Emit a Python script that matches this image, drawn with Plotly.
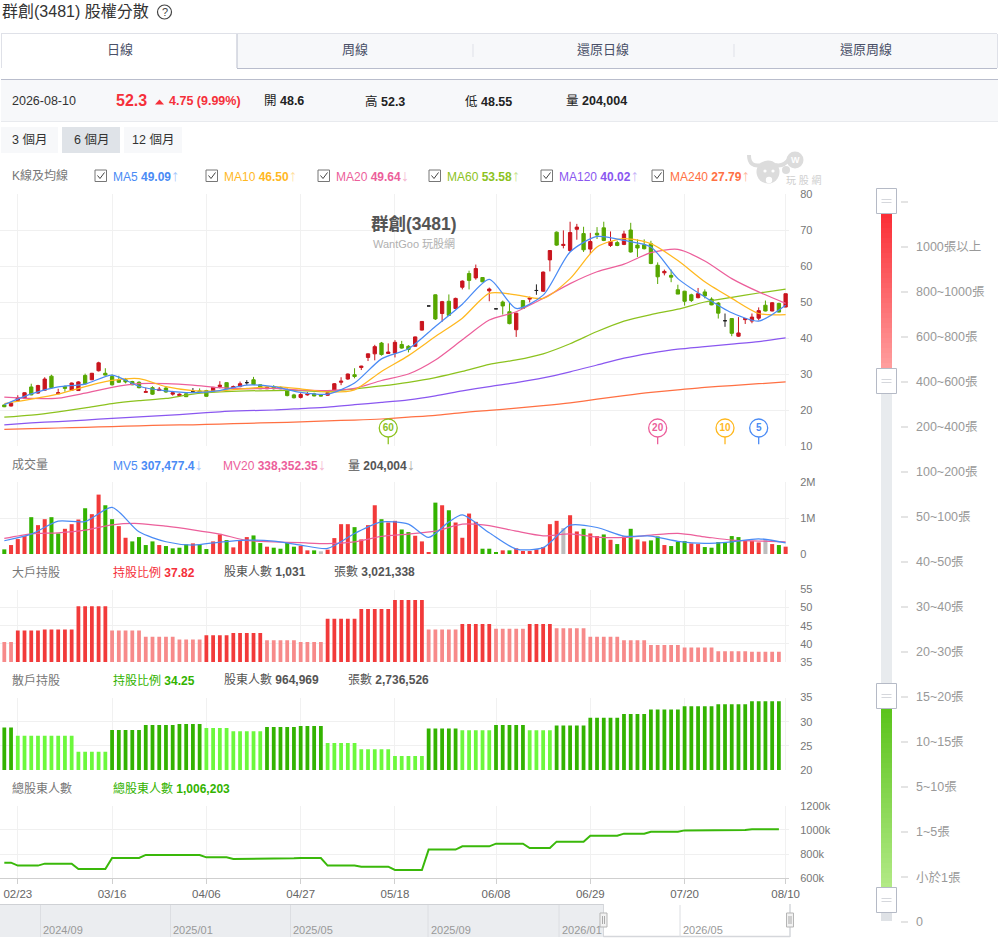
import numpy as np
import pandas as pd
import plotly.graph_objects as go

# trading days shown on the chart
holidays = ["2026-02-13", "2026-02-16", "2026-02-17", "2026-02-18", "2026-02-19", "2026-02-20", "2026-02-27",
            "2026-04-03", "2026-04-10", "2026-05-01", "2026-06-19", "2026-07-10"]
all_days = pd.bdate_range("2026-02-11", "2026-08-10")
dates = [d.strftime("%m/%d") for d in all_days if d.strftime("%Y-%m-%d") not in holidays]
tick_dates = ["02/23", "03/16", "04/06", "04/27", "05/18", "06/08", "06/29", "07/20", "08/10"]

opens = [21.4, 21.1, 22.6, 23.3, 26.4, 24.7, 25.5, 29.4, 24.5, 26.5,
         25.5, 25.4, 29.6, 28.4, 30.9, 30.2, 29.3, 28.4, 28.4, 27.9,
         27.7, 24.9, 26.2, 25.4, 26.1, 24.4, 24.0, 24.5, 25.1, 25.3,
         25.4, 25.1, 26.5, 27.6, 26.1, 26.5, 27.6, 28.4, 27.0, 25.9,
         26.5, 26.3, 25.6, 24.2, 23.5, 24.2, 24.5, 24.1, 24.1, 25.5,
         27.7, 28.6, 29.8, 31.8, 34.6, 35.6, 38.6, 35.7, 35.8, 38.2,
         37.7, 37.7, 42.2, 48.9, 52.0, 46.8, 50.2, 48.2, 54.1, 57.9,
         56.7, 56.8, 53.1, 48.1, 50.0, 47.3, 42.3, 50.4, 50.8, 53.2,
         53.0, 61.7, 69.4, 65.7, 64.3, 70.2, 69.0, 64.7, 69.1, 70.6,
         65.7, 66.5, 66.0, 70.0, 65.8, 65.9, 66.2, 60.2, 58.1, 57.4,
         53.4, 53.0, 52.0, 51.2, 52.8, 50.8, 49.7, 44.8, 45.4, 40.5,
         45.1, 44.7, 45.5, 49.1, 47.5, 49.6, 48.6]
highs = [21.6, 22.2, 24.1, 24.9, 27.3, 27.0, 29.1, 29.8, 25.9, 26.8,
         27.6, 28.0, 30.1, 30.3, 33.4, 31.6, 29.9, 29.5, 28.9, 28.1,
         28.0, 26.2, 26.6, 26.4, 26.6, 25.3, 24.6, 24.6, 26.1, 26.0,
         25.6, 26.4, 28.0, 27.7, 26.8, 27.9, 28.3, 29.2, 27.1, 26.6,
         26.9, 26.5, 26.0, 24.5, 24.7, 25.0, 24.8, 24.2, 25.2, 27.5,
         29.1, 30.1, 31.6, 32.3, 35.7, 38.1, 38.9, 38.5, 39.4, 39.2,
         38.0, 40.4, 44.7, 48.9, 52.1, 50.3, 52.1, 51.2, 56.0, 58.7,
         60.4, 56.9, 54.0, 48.1, 50.4, 50.0, 47.0, 50.5, 51.5, 54.9,
         58.5, 64.4, 69.6, 69.9, 72.3, 71.7, 70.9, 69.2, 70.8, 72.3,
         69.6, 67.0, 69.8, 72.0, 67.4, 67.4, 67.0, 61.0, 59.0, 59.0,
         54.8, 53.1, 52.3, 53.9, 53.5, 51.3, 50.0, 46.8, 45.5, 45.8,
         45.5, 46.8, 48.5, 50.4, 50.0, 49.8, 52.3]
lows = [20.8, 21.0, 22.3, 23.2, 24.1, 24.5, 25.3, 26.0, 24.4, 25.1,
        25.4, 25.3, 27.1, 28.3, 30.7, 29.6, 26.8, 27.5, 27.4, 26.9,
        26.0, 24.9, 24.2, 25.3, 24.8, 24.0, 23.8, 23.6, 24.8, 24.8,
        23.7, 25.0, 26.0, 25.8, 25.8, 26.3, 27.0, 27.0, 25.8, 25.8,
        25.7, 25.8, 23.8, 23.2, 23.2, 24.0, 23.8, 23.8, 24.0, 25.4,
        26.9, 28.4, 28.8, 31.1, 33.6, 33.8, 35.1, 35.6, 34.6, 37.0,
        36.0, 37.6, 42.1, 48.9, 45.0, 44.5, 46.2, 48.0, 53.5, 53.5,
        56.2, 55.5, 50.2, 48.1, 46.5, 43.8, 40.3, 48.1, 49.9, 52.0,
        52.8, 58.5, 65.6, 64.9, 63.9, 67.3, 63.9, 63.3, 67.5, 66.9,
        65.3, 65.5, 65.8, 63.7, 62.5, 64.6, 60.5, 55.0, 57.4, 55.5,
        52.2, 49.0, 50.0, 51.0, 51.0, 49.1, 45.4, 43.1, 40.5, 40.3,
        43.9, 44.1, 44.9, 47.4, 47.4, 47.1, 48.55]
closes = [20.9, 21.9, 23.4, 24.8, 24.2, 26.8, 28.6, 26.2, 24.8, 26.0,
          27.5, 27.8, 27.3, 30.2, 33.1, 29.7, 27.0, 27.7, 27.8, 27.0,
          26.2, 25.1, 24.4, 25.8, 25.0, 24.8, 24.4, 23.7, 25.1, 25.0,
          23.8, 26.3, 26.9, 25.9, 26.5, 27.3, 27.6, 27.1, 25.9, 26.3,
          25.9, 25.9, 24.0, 23.4, 24.3, 24.4, 23.9, 23.9, 24.8, 27.3,
          28.0, 30.0, 29.3, 32.2, 35.6, 37.6, 35.4, 36.1, 38.8, 37.2,
          36.8, 40.3, 44.6, 48.9, 45.3, 50.1, 46.3, 51.0, 55.8, 56.0,
          59.3, 55.6, 53.6, 48.1, 48.9, 44.0, 46.9, 48.2, 51.1, 53.2,
          58.3, 64.3, 65.8, 66.0, 69.3, 70.8, 64.5, 66.8, 68.6, 67.1,
          66.8, 65.7, 68.9, 63.9, 65.0, 64.8, 60.7, 57.0, 58.5, 56.9,
          52.2, 50.2, 50.4, 52.3, 51.7, 49.2, 46.9, 44.8, 41.3, 41.4,
          45.4, 45.8, 47.6, 47.5, 49.8, 47.2, 52.3]

ma5 = [21.5, 24.5, 26.4, 27.2, 29.7, 26.6, 25.3, 24.8, 25.4, 26.9,
       26.5, 24.9, 24.4, 27.5, 34.2, 37.0, 43.2, 49.4, 56.3, 48.2,
       51.9, 63.9, 68.2, 67.1, 65.3, 56.5, 51.4, 47.0, 44.7, 49.09]
ma10 = [21.8, 23.0, 24.4, 26.5, 28.2, 28.7, 26.5, 25.4, 25.3, 26.0,
        26.5, 25.9, 25.0, 25.6, 30.7, 35.1, 40.4, 45.5, 52.4, 52.0,
        51.0, 56.5, 65.3, 67.6, 66.2, 61.5, 55.6, 51.0, 46.8, 46.5]
ma20 = [23.6, 23.2, 23.3, 24.7, 26.3, 27.3, 27.3, 26.9, 26.2, 25.9,
        26.0, 25.5, 25.4, 26.0, 28.2, 30.0, 33.9, 39.5, 45.0, 47.3,
        51.0, 55.1, 58.4, 60.5, 63.7, 64.6, 61.4, 56.5, 52.8, 49.64]
ma60 = [18.0, 18.6, 19.5, 20.6, 21.8, 22.6, 23.2, 24.4, 25.0, 25.3,
        25.4, 25.4, 25.1, 25.9, 26.7, 27.7, 29.0, 30.7, 32.7, 33.9,
        35.6, 38.4, 41.8, 44.7, 46.5, 48.0, 50.0, 51.3, 52.5, 53.58]
ma120 = [15.9, 16.4, 16.8, 17.2, 17.7, 18.1, 18.5, 19.0, 19.5, 19.8,
         20.0, 20.4, 20.8, 21.5, 22.1, 22.8, 23.9, 25.3, 26.5, 27.6,
         28.9, 30.6, 32.5, 34.4, 35.8, 36.9, 37.6, 38.3, 39.0, 40.02]
ma240 = [14.6, 14.8, 15.0, 15.2, 15.4, 15.6, 15.8, 15.9, 16.1, 16.3,
         16.5, 16.7, 17.0, 17.2, 17.5, 18.0, 18.5, 19.3, 19.9, 20.5,
         21.2, 22.0, 23.0, 24.0, 24.9, 25.6, 26.3, 26.8, 27.3, 27.79]

cross_days_idx = [57, 97, 107, 112]
cross_labels = ["60", "20", "10", "5"]
cross_y = [15, 15, 15, 15]

# volume in thousands of lots, R up / G down / N flat
volume = [129, 249, 415, 498, 1023, 802, 967, 1023, 571, 700,
          829, 958, 1271, 1106, 1650, 1354, 967, 774, 451, 350,
          470, 249, 350, 249, 221, 157, 175, 267, 295, 258,
          138, 350, 543, 387, 184, 387, 470, 516, 304, 203,
          175, 147, 313, 203, 230, 101, 101, 74, 120, 442,
          829, 829, 746, 405, 802, 1354, 967, 875, 921, 681,
          608, 507, 350, 55, 1427, 1354, 1215, 875, 451, 1123,
          893, 147, 147, 55, 101, 101, 157, 83, 83, 129,
          193, 829, 921, 718, 1077, 626, 700, 571, 498, 543,
          396, 276, 488, 700, 405, 350, 378, 488, 249, 221,
          341, 359, 295, 276, 193, 175, 332, 332, 498, 470,
          368, 359, 322, 387, 276, 249, 204]
vol_side = list("GRRRGRRGGR"
                "RRGRRGGRRG"
                "GGGRGGGGRG"
                "GRRGRRRGGR"
                "GGGGRRGNRR"
                "RRGRRRGRRG"
                "GRRRGRGRRR"
                "RGGGRGRRRR"
                "RRRNRRGRRG"
                "RGRGRRGGRG"
                "GGRRGGGGGG"
                "RRRNRGR")
mv5_idx = [0, 4, 8, 12, 16, 20, 24, 28, 32, 36, 40, 44, 48, 52, 56, 60, 63, 66, 68, 72, 76, 80, 84, 88, 92, 96, 100, 104, 108, 112, 116]
mv5 = [368, 552, 911, 902, 1297, 616, 340, 248, 331, 386,
       359, 248, 156, 570, 892, 828, 460, 892, 1086, 589,
       138, 175, 800, 736, 497, 497, 350, 294, 340, 423, 307.5]
mv20 = [432, 561, 589, 662, 810, 846, 773, 672, 552, 377,
        340, 313, 285, 340, 488, 552, 635, 828, 791, 635,
        506, 561, 469, 460, 524, 570, 478, 386, 359, 338.4]

# shareholder data is weekly
week_len = [2, 4, 5, 5, 5, 5, 4, 4, 5, 5, 4, 5, 5, 5, 5, 5, 5, 4, 5, 5, 4, 5, 5, 5, 5]
big_pct = [40.5, 43.7, 44.0, 50.4, 43.7, 42.0, 41.2, 42.4, 43.0, 41.0, 40.5, 46.9, 49.6,
           52.1, 44.0, 45.5, 44.2, 45.5, 44.3, 42.0, 41.0, 39.7, 39.0, 38.0, 37.82]
small_pct = [28.8, 27.1, 27.1, 23.8, 28.3, 29.3, 29.5, 28.7, 28.0, 28.9, 29.1, 25.6, 24.3,
             22.9, 28.6, 28.2, 29.3, 28.2, 29.2, 30.8, 31.6, 32.5, 33.2, 33.6, 34.25]
holders = [729, 705, 721, 677, 768, 793, 793, 773, 760, 765, 768, 705, 696,
           669, 837, 864, 886, 850, 903, 952, 969, 985, 996, 999, 1006]

nav_labels = ["2024/09", "2025/01", "2025/05", "2025/09", "2026/01", "2026/05"]
tier_labels = ["1000張以上", "800~1000張", "600~800張", "400~600張", "200~400張", "100~200張", "50~100張", "40~50張",
               "30~40張", "20~30張", "15~20張", "10~15張", "5~10張", "1~5張", "小於1張", "0"]

W, H = 998, 944
RED, GREEN = "#c9151e", "#57a700"
MA_COL = dict(ma5="#4a8bf5", ma10="#ffb81f", ma20="#ec5f9b", ma60="#8cc21e", ma120="#8a57f0", ma240="#ff7043")
FONT = "Liberation Sans, Noto Sans CJK TC, sans-serif"

ma_days = dates[::4]
week_days = dates[:sum(week_len)]


def px(x):
    return x / W


def py(y):
    return 1 - y / H


def rect(x0, y0, x1, y1, fill="rgba(0,0,0,0)", line=None, lw=1):
    return dict(type="rect", xref="paper", yref="paper", x0=px(x0), x1=px(x1), y0=py(y0), y1=py(y1),
                fillcolor=fill, line=dict(color=line or "rgba(0,0,0,0)", width=lw if line else 0))


def hline(x0, x1, y, color, lw=1):
    return dict(type="line", xref="paper", yref="paper", x0=px(x0), x1=px(x1), y0=py(y), y1=py(y),
                line=dict(color=color, width=lw))


def vline(x, y0, y1, color, lw=1):
    return dict(type="line", xref="paper", yref="paper", x0=px(x), x1=px(x), y0=py(y0), y1=py(y1),
                line=dict(color=color, width=lw))


def poly(points, color=None, fill=None, lw=1.5):
    d = "M " + " L ".join(f"{px(a):.5f},{py(b):.5f}" for a, b in points)
    if fill:
        d += " Z"
    return dict(type="path", xref="paper", yref="paper", path=d, fillcolor=fill or "rgba(0,0,0,0)",
                line=dict(color=color or "rgba(0,0,0,0)", width=lw if color else 0))


def curve(p0, q, p1, color, lw=3):
    d = f"M {px(p0[0]):.5f},{py(p0[1]):.5f} Q {px(q[0]):.5f},{py(q[1]):.5f} {px(p1[0]):.5f},{py(p1[1]):.5f}"
    return dict(type="path", xref="paper", yref="paper", path=d, line=dict(color=color, width=lw))


def oval(cx, cy, r, fill="rgba(0,0,0,0)", line=None, lw=1):
    return dict(type="circle", xref="paper", yref="paper", x0=px(cx - r), x1=px(cx + r), y0=py(cy - r), y1=py(cy + r),
                fillcolor=fill, line=dict(color=line or "rgba(0,0,0,0)", width=lw if line else 0))


def text(x, y, s, size=12, color="#333", anchor="left"):
    # annotations carry about 2px of padding on the left
    x = x - 2 if anchor == "left" else x
    return dict(xref="paper", yref="paper", x=px(x), y=py(y), text=s, showarrow=False, xanchor=anchor, yanchor="middle",
                font=dict(size=size, color=color, family=FONT), align=anchor)


def arrow(mark, color):
    return f'<span style="color:{color};font-size:16px">{mark}</span>'


def lerp_hex(a, b, t):
    ca = [int(a[i:i + 2], 16) for i in (1, 3, 5)]
    cb = [int(b[i:i + 2], 16) for i in (1, 3, 5)]
    return "#%02x%02x%02x" % tuple(int(u + (v - u) * t) for u, v in zip(ca, cb))


fig = go.Figure()

# candles, flat days are drawn black
o, h, l, c = map(np.array, (opens, highs, lows, closes))
flat = o == c
day_arr = np.array(dates)
fig.add_trace(go.Candlestick(x=day_arr[~flat], open=o[~flat], high=h[~flat], low=l[~flat], close=c[~flat],
                             increasing=dict(line=dict(color=RED, width=1), fillcolor=RED),
                             decreasing=dict(line=dict(color=GREEN, width=1), fillcolor=GREEN),
                             whiskerwidth=0, showlegend=False, hoverinfo="skip"))
fig.add_trace(go.Candlestick(x=day_arr[flat], open=o[flat], high=h[flat], low=l[flat], close=c[flat],
                             increasing=dict(line=dict(color="#222", width=1), fillcolor="#222"),
                             decreasing=dict(line=dict(color="#222", width=1), fillcolor="#222"),
                             whiskerwidth=0, showlegend=False, hoverinfo="skip"))
for name, vals in [("ma240", ma240), ("ma120", ma120), ("ma60", ma60), ("ma20", ma20), ("ma10", ma10), ("ma5", ma5)]:
    fig.add_trace(go.Scatter(x=ma_days, y=vals, mode="lines", showlegend=False, hoverinfo="skip",
                             line=dict(color=MA_COL[name], width=1.25, shape="spline", smoothing=0.7)))

# crossing badges under the candles
badge_cols = [MA_COL["ma60"], MA_COL["ma20"], MA_COL["ma10"], MA_COL["ma5"]]
for i, col in zip(cross_days_idx, badge_cols):
    fig.add_trace(go.Scatter(x=[dates[i], dates[i]], y=[12.5, 10.5], mode="lines", line=dict(color=col, width=1.3),
                             showlegend=False, hoverinfo="skip"))
fig.add_trace(go.Scatter(x=[dates[i] for i in cross_days_idx], y=cross_y, mode="markers+text", text=cross_labels,
                         textposition="middle center", textfont=dict(size=10, color=badge_cols, family=FONT, weight="bold"),
                         marker=dict(size=18, color="white", line=dict(color=badge_cols, width=1.3)),
                         showlegend=False, hoverinfo="skip"))

# volume panel
side_col = dict(R="#f23a3a", G="#33b300", N="#bdbdbd")
fig.add_trace(go.Bar(x=dates, y=volume, marker=dict(color=[side_col[s] for s in vol_side], line_width=0), width=0.6,
                     xaxis="x2", yaxis="y2", showlegend=False, hoverinfo="skip"))
fig.add_trace(go.Scatter(x=ma_days, y=mv20, mode="lines", xaxis="x2", yaxis="y2", showlegend=False, hoverinfo="skip",
                         line=dict(color=MA_COL["ma20"], width=1.25, shape="spline", smoothing=0.7)))
fig.add_trace(go.Scatter(x=[dates[i] for i in mv5_idx], y=mv5, mode="lines", xaxis="x2", yaxis="y2", showlegend=False,
                         hoverinfo="skip", line=dict(color=MA_COL["ma5"], width=1.25, shape="spline", smoothing=0.7)))

# big holders
big_bars = np.repeat(big_pct, week_len)
big_up = np.repeat(np.diff(big_pct, prepend=99) > 0, week_len)
fig.add_trace(go.Bar(x=week_days, y=big_bars, width=0.56, xaxis="x3", yaxis="y3", showlegend=False, hoverinfo="skip",
                     marker=dict(color=np.where(big_up, "#f23a3a", "#f78a8a").tolist(), line_width=0)))

# small holders
small_bars = np.repeat(small_pct, week_len)
small_up = np.repeat(np.diff(small_pct, prepend=0) > 0, week_len)
fig.add_trace(go.Bar(x=week_days, y=small_bars, width=0.56, xaxis="x4", yaxis="y4", showlegend=False, hoverinfo="skip",
                     marker=dict(color=np.where(small_up, "#33b300", "#6cf83c").tolist(), line_width=0)))

# total holders
fig.add_trace(go.Scatter(x=week_days, y=np.repeat(holders, week_len), mode="lines", xaxis="x5", yaxis="y5",
                         line=dict(color="#3ab80a", width=2), showlegend=False, hoverinfo="skip"))

panels = [(194, 446), (482, 554), (589.5, 662), (697.5, 770), (805.7, 878.3)]
y_specs = [
    dict(range=[10, 80], tickvals=[10, 20, 30, 40, 50, 60, 70, 80]),
    dict(range=[0, 2000], tickvals=[0, 1000, 2000], ticktext=["0", "1M", "2M"]),
    dict(range=[35, 55], tickvals=[35, 40, 45, 50, 55]),
    dict(range=[20, 35], tickvals=[20, 25, 30, 35]),
    dict(range=[600, 1200], tickvals=[600, 800, 1000, 1200], ticktext=["600k", "800k", "1000k", "1200k"]),
]
layout_axes = {}
for n, ((top, bottom), spec) in enumerate(zip(panels, y_specs), start=1):
    sfx = "" if n == 1 else str(n)
    last = n == len(panels)
    layout_axes["xaxis" + sfx] = dict(
        type="category", categoryorder="array", categoryarray=dates, range=[-0.64, 116.5], domain=[0, 789 / W],
        anchor="y" + sfx, tickmode="array", tickvals=tick_dates, showgrid=True, gridcolor="#f1f1f1", zeroline=False,
        showticklabels=last, ticks="outside" if last else "", ticklen=5, tickcolor="#cfcfcf",
        showline=last, linecolor="#cfcfcf", tickfont=dict(size=11.5, color="#666", family=FONT),
        rangeslider=dict(visible=False), fixedrange=True)
    layout_axes["yaxis" + sfx] = dict(
        domain=[py(bottom), py(top)], anchor="x" + sfx, side="right", showgrid=True, gridcolor="#f0f0f0", zeroline=False,
        ticks="outside", ticklen=8, tickcolor="rgba(0,0,0,0)", tickfont=dict(size=11, color="#777", family=FONT),
        tickmode="array", fixedrange=True, **spec)

shapes = []
notes = []

# page header
notes.append(text(2, 12, "群創(3481) 股權分散", 16, "#333"))
shapes.append(oval(164.5, 12, 7, line="#444", lw=1.2))
notes.append(text(164.5, 12, "?", 11, "#444", "center"))

# tabs
shapes += [rect(237, 34, 997, 68, fill="#f7f8fa"), hline(1, 997, 33.5, "#dfe1e8"), hline(237, 997, 68.5, "#b9bdcc"),
           vline(1.5, 34, 68, "#dfe1e8"), vline(237, 34, 68, "#b9bdcc"), vline(997.5, 34, 68, "#dfe1e8"),
           vline(473, 44, 57, "#dfe1e8"), vline(734, 44, 57, "#dfe1e8")]
for tx, label in [(120, "日線"), (355, "周線"), (603, "還原日線"), (866, "還原周線")]:
    notes.append(text(tx, 50, label, 13, "#4a5068", "center"))

# quote row
shapes += [rect(1, 80, 998, 121, fill="#f7f8fa"), hline(1, 998, 79.5, "#b9bdcc"), hline(1, 998, 121.5, "#e8eaee"),
           poly([(155, 104.5), (164, 104.5), (159.5, 99.5)], fill="#f5303a")]
notes += [text(12, 101, "2026-08-10", 12.5, "#333"),
          text(116, 100.5, "<b>52.3</b>", 16, "#f5303a"),
          text(169, 101, "<b>4.75 (9.99%)</b>", 12.5, "#f5303a"),
          text(264, 101, "開 <b>48.6</b>", 12.5, "#222"),
          text(365, 101, "高 <b>52.3</b>", 12.5, "#222"),
          text(465, 101, "低 <b>48.55</b>", 12.5, "#222"),
          text(566, 101, "量 <b>204,004</b>", 12.5, "#222")]

# period buttons
for x0, x1, fill, label in [(1, 58, "#f7f8fa", "3 個月"), (62, 120, "#dfe3e8", "6 個月"), (124, 182, "#f7f8fa", "12 個月")]:
    shapes.append(rect(x0, 127, x1, 153, fill=fill))
    notes.append(text((x0 + x1) / 2, 140, label, 12.5, "#333", "center"))

# MA legend
notes.append(text(12, 175, "K線及均線", 12, "#777"))
legend_rows = [(95, "MA5", "49.09", "↑", "ma5", "#a8c8fb"), (206, "MA10", "46.50", "↑", "ma10", "#ffe0a0"),
               (318, "MA20", "49.64", "↓", "ma20", "#f5b5d0"), (429, "MA60", "53.58", "↑", "ma60", "#c8e48e"),
               (541, "MA120", "40.02", "↑", "ma120", "#c8b4f8"), (652, "MA240", "27.79", "↑", "ma240", "#ffb8a0")]
for bx, name, val, mark, key, pale in legend_rows:
    shapes.append(rect(bx, 170, bx + 11.5, 181.5, line="#777"))
    shapes.append(poly([(bx + 2.5, 175.5), (bx + 5, 178.5), (bx + 9.5, 172.5)], color="#444", lw=1))
    notes.append(text(bx + 18, 175, f"{name} <b>{val}</b>{arrow(mark, pale)}", 12, MA_COL[key]))

# watermark logo
LOGO = "#dcdcdc"
shapes += [oval(768, 172, 11.5, fill=LOGO), oval(795, 160, 8.5, fill=LOGO), oval(786, 170, 4, fill=LOGO),
           curve((749, 155), (749, 168), (762, 165), LOGO, 4), curve((775, 165), (784, 167), (789, 159), LOGO, 4),
           oval(765, 171, 1.6, fill="white"), oval(773, 171, 1.6, fill="white"),
           oval(769, 180, 3.2, fill="white")]
notes += [text(795, 160, "<b>W</b>", 9, "white", "center"), text(804, 180, "玩 股 網", 10, "#cfcfcf", "center")]

# chart title
notes += [text(414, 224, "<b>群創(3481)</b>", 17.5, "#555", "center"),
          text(414, 244, "WantGoo 玩股網", 11, "#b0b0b0", "center")]

# panel captions
notes += [text(12, 464, "成交量", 12, "#777"),
          text(113, 464, f'MV5 <b>307,477.4</b>{arrow("↓", "#a8c8fb")}', 12, "#4a8bf5"),
          text(223, 464, f'MV20 <b>338,352.35</b>{arrow("↓", "#f5b5d0")}', 12, "#ec5f9b"),
          text(348, 464, f'量 <b>204,004</b>{arrow("↓", "#aaa")}', 12, "#555"),
          text(12, 572, "大戶持股", 12, "#777"),
          text(113, 572, "持股比例 <b>37.82</b>", 12, "#f5303a"),
          text(224, 572, "股東人數 <b>1,031</b>", 12, "#555"),
          text(334, 572, "張數 <b>3,021,338</b>", 12, "#555"),
          text(12, 680, "散戶持股", 12, "#777"),
          text(113, 680, "持股比例 <b>34.25</b>", 12, "#33b300"),
          text(224, 680, "股東人數 <b>964,969</b>", 12, "#555"),
          text(348, 680, "張數 <b>2,736,526</b>", 12, "#555"),
          text(12, 788, "總股東人數", 12, "#777"),
          text(113, 788, "總股東人數 <b>1,006,203</b>", 12, "#33b300")]

# navigator strip
shapes += [rect(0, 905, 603.5, 937, fill="#ebedf0"), hline(0, 603.5, 904.5, "#cfd1d5"),
           hline(603.5, 790, 936.5, "#d5d7db", 1.5), vline(790, 904, 937, "#d5d7db", 1.5), vline(603.5, 904, 937, "#d5d7db")]
for nx, label in zip([40.5, 170.5, 290.5, 428, 559, 680], nav_labels):
    shapes.append(vline(nx, 905, 937, "#dcdee2"))
    notes.append(text(nx + 2.5, 930, label, 11, "#999"))
for hx in (603.5, 790):
    shapes.append(rect(hx - 3.5, 913, hx + 3.5, 927, fill="#f2f2f2", line="#b5b5b5"))
    shapes.append(vline(hx - 1, 916, 924, "#aaa"))
    shapes.append(vline(hx + 1, 916, 924, "#aaa"))

# tier slider
shapes.append(rect(881, 393, 892, 683, fill="#e8ebee"))
shapes.append(rect(881, 912, 892, 921, fill="#dfe2e6"))
for k in range(31):
    y0 = 213 + k * 5
    shapes.append(rect(881, y0, 892, y0 + 6, fill=lerp_hex("#fb2f37", "#ff9d9d", k / 30)))
for k in range(36):
    y0 = 708 + k * 5
    shapes.append(rect(881, y0, 892, y0 + 6, fill=lerp_hex("#5cc41c", "#b2ea85", k / 35)))
for y0 in (188.5, 368.5, 683.5, 887.5):
    shapes.append(rect(876.5, y0, 896.5, y0 + 25, fill="#ffffff", line="#b5bac6"))
    shapes.append(hline(881.5, 891.5, y0 + 11, "#d5d7dc"))
    shapes.append(hline(881.5, 891.5, y0 + 14, "#d5d7dc"))
shapes.append(hline(901, 908, 202, "#c9c9c9"))
for k, label in enumerate(tier_labels):
    ty = 247 + k * 45
    shapes.append(hline(901, 908, ty, "#c9c9c9"))
    notes.append(text(916, ty, label, 12.5, "#999"))

fig.update_layout(width=W, height=H, autosize=False, margin=dict(l=0, r=0, t=0, b=0, autoexpand=False),
                  paper_bgcolor="white", plot_bgcolor="white", bargap=0.4, shapes=shapes, annotations=notes,
                  showlegend=False, **layout_axes)

fig.write_html("out.html", config=dict(displayModeBar=False),
               post_script="document.body.style.margin='0';document.documentElement.style.overflow='hidden';")
